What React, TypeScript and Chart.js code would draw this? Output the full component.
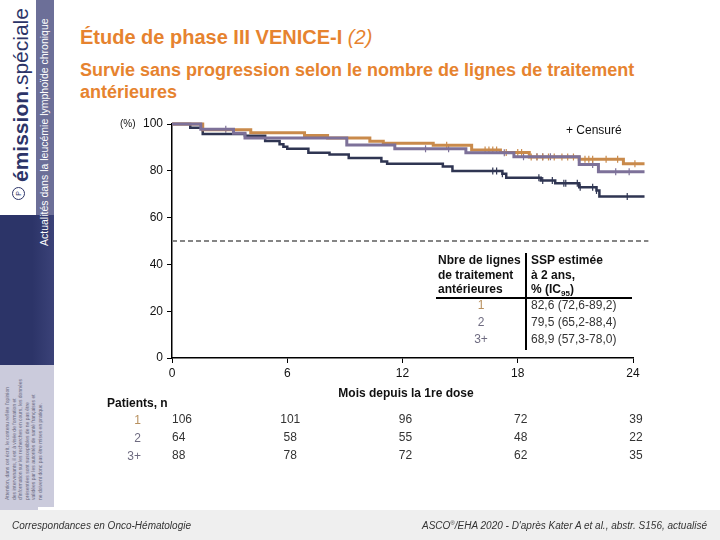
import React, { useEffect, useRef } from "react";
import { Chart, registerables } from "chart.js";

Chart.register(...registerables);

// ---- Data ----
const months1 = [0, 1.6, 4.1, 6.9, 8.1, 10.3, 11.0, 13.6, 15.6, 17.1, 18.6, 21.2, 23.5, 24.6];
const surv1 = [100, 97.5, 96.3, 95.1, 94.0, 92.6, 91.8, 90.9, 88.9, 87.8, 85.9, 84.9, 83.0, 83.0];

const months2 = [0, 1.5, 3.2, 3.8, 9.1, 11.6, 15.3, 17.8, 21.2, 22.2, 24.6];
const surv2 = [100, 97.8, 96.0, 94.0, 91.0, 89.4, 87.7, 86.0, 82.7, 79.6, 79.6];

const months3 = [0, 0.95, 1.6, 3.8, 4.85, 5.6, 5.8, 6.0, 7.1, 8.2, 9.2, 10.9, 11.2, 14.1, 14.6, 17.2, 17.4, 19.2, 19.95, 21.2, 22.1, 22.25, 24.6];
const surv3 = [100, 98.4, 95.7, 95.0, 92.7, 91.3, 90.3, 89.4, 87.7, 87.0, 85.5, 84.0, 83.0, 81.8, 79.9, 78.7, 77.0, 75.9, 74.7, 73.0, 71.6, 69.0, 69.0];

const censor1 = [14.3, 16.3, 16.5, 16.7, 16.9, 17.4, 18.0, 18.2, 18.7, 19.0, 19.3, 19.6, 19.9, 20.3, 20.6, 20.9, 21.5, 21.7, 21.9, 22.6, 23.2, 24.1, 24.3, 24.5];
const censor2 = [2.8, 13.2, 14.4, 17.3, 18.3, 19.0, 19.3, 19.7, 21.9, 23.1, 23.8, 24.6];
const censor3 = [16.7, 16.9, 17.2, 19.1, 19.3, 19.8, 20.4, 20.5, 21.1, 21.25, 21.9, 22.1, 23.7, 24.4, 24.5, 24.6];

const groupLabels = ["1", "2", "3+"];
const estimates = ["82,6 (72,6-89,2)", "79,5 (65,2-88,4)", "68,9 (57,3-78,0)"];

const atRiskTimes = [0, 6, 12, 18, 24];
const atRisk1 = [106, 101, 96, 72, 39];
const atRisk2 = [64, 58, 55, 48, 22];
const atRisk3 = [88, 78, 72, 62, 35];

const yTicks = [0, 20, 40, 60, 80, 100];
const xTicks = [0, 6, 12, 18, 24];
const thresholdValue = 50;
const thresholdEnd = 24.8;

// ---- Styles ----
const FONT = '"Liberation Sans Narrow", "Liberation Sans", Arial, sans-serif';
const SANS = '"Liberation Sans", Arial, sans-serif';
const ORANGE_TITLE = "#E6832F";
const C1 = "#C98A4B";
const C2 = "#7D7199";
const C3 = "#2F3552";
const LABEL1 = "#B8905E";
const LABEL_OTHER = "#6E6B80";
const NAVY = "#2C3468";

function survAt(times: number[], vals: number[], t: number) {
  let v = vals[0];
  for (let i = 0; i < times.length; i++) if (times[i] <= t) v = vals[i];
  return v;
}

function curve(times: number[], vals: number[]) {
  return times.map((t, i) => ({ x: t, y: vals[i] }));
}

function censorPts(c: number[], times: number[], vals: number[]) {
  return c.map((t) => ({ x: t, y: survAt(times, vals, t) }));
}

const extrasPlugin = {
  id: "extras",
  afterDatasetsDraw(chart: any) {
    const { ctx, scales, chartArea } = chart;
    const x = scales.x;
    const y = scales.y;
    // dashed reference line
    ctx.save();
    ctx.strokeStyle = "#858585";
    ctx.lineWidth = 2;
    ctx.setLineDash([5, 3]);
    ctx.beginPath();
    const yy = y.getPixelForValue(thresholdValue);
    ctx.moveTo(x.getPixelForValue(0), yy);
    ctx.lineTo(x.getPixelForValue(thresholdEnd), yy);
    ctx.stroke();
    ctx.restore();

    // numbers at risk
    ctx.save();
    ctx.font = `12px ${FONT}`;
    ctx.fillStyle = "#333";
    ctx.textBaseline = "middle";
    const rows = [atRisk1, atRisk2, atRisk3];
    rows.forEach((row, r) => {
      const py = chartArea.bottom + 62 + r * 18;
      row.forEach((n, i) => {
        const px = x.getPixelForValue(atRiskTimes[i]);
        if (i === 0) {
          ctx.textAlign = "left";
          ctx.fillText(String(n), px, py);
        } else {
          ctx.textAlign = "center";
          ctx.fillText(String(n), px + 3, py);
        }
      });
    });
    ctx.restore();
  },
};

function KMChart() {
  const ref = useRef<HTMLCanvasElement | null>(null);
  useEffect(() => {
    if (!ref.current) return;
    const lineDs = (data: any, color: string, w: number) => ({
      type: "line",
      data,
      borderColor: color,
      borderWidth: w,
      stepped: "before",
      pointRadius: 0,
      fill: false,
      clip: false,
    });
    const censorDs = (data: any, color: string) => ({
      type: "scatter",
      data,
      borderColor: color,
      backgroundColor: color,
      pointStyle: "line",
      rotation: 90,
      pointRadius: 3.5,
      borderWidth: 1.2,
      showLine: false,
      clip: false,
    });
    const chart = new Chart(ref.current, {
      type: "line",
      data: {
        datasets: [
          lineDs(curve(months2, surv2), C2, 3),
          lineDs(curve(months1, surv1), C1, 3),
          lineDs(curve(months3, surv3), C3, 2.5),
          censorDs(censorPts(censor1, months1, surv1), C1),
          censorDs(censorPts(censor2, months2, surv2), C2),
          censorDs(censorPts(censor3, months3, surv3), C3),
        ] as any,
      },
      options: {
        animation: false,
        responsive: false,
        devicePixelRatio: 1,
        layout: { padding: { left: 132, top: 124, right: 87, bottom: 152 } },
        plugins: { legend: { display: false }, tooltip: { enabled: false } },
        scales: {
          x: {
            type: "linear",
            min: 0,
            max: 24,
            afterBuildTicks: (s: any) => {
              s.ticks = xTicks.map((v) => ({ value: v }));
            },
            afterFit: (s: any) => {
              s.height = 30;
            },
            ticks: { color: "#111", font: { family: FONT, size: 12 }, padding: 3, maxRotation: 0 },
            grid: { drawOnChartArea: false, drawTicks: true, tickLength: 5, color: "#000", lineWidth: 1 },
            border: { display: true, color: "#000", width: 1.5 },
          },
          y: {
            type: "linear",
            min: 0,
            max: 100,
            afterBuildTicks: (s: any) => {
              s.ticks = yTicks.map((v) => ({ value: v }));
            },
            afterFit: (s: any) => {
              s.width = 40;
            },
            ticks: { color: "#111", font: { family: FONT, size: 12 }, padding: 4 },
            grid: { drawOnChartArea: false, drawTicks: true, tickLength: 5, color: "#000", lineWidth: 1 },
            border: { display: true, color: "#000", width: 1.5 },
          },
        },
      } as any,
      plugins: [extrasPlugin],
    });
    return () => chart.destroy();
  }, []);
  return (
    <canvas
      ref={ref}
      width={720}
      height={540}
      style={{ position: "absolute", left: 0, top: 0, width: 720, height: 540 }}
    />
  );
}

const abs = (s: any): any => ({ position: "absolute", whiteSpace: "nowrap", ...s });

export default function App() {
  return (
    <div style={{ position: "absolute", left: 0, top: 0, width: 720, height: 540, background: "#fff", overflow: "hidden", fontFamily: FONT }}>
      {/* Sidebar */}
      <div style={abs({ left: 36, top: 0, width: 18, height: 216, background: "#6C6F98" })} />
      <div style={abs({ left: 0, top: 215, width: 54, height: 150, background: `linear-gradient(90deg, ${NAVY} 0%, ${NAVY} 60%, #3B4278 100%)` })} />
      <div style={abs({ left: 0, top: 365, width: 54, height: 142, background: "#CBCBDC" })} />
      <div style={abs({ left: 0, top: 505, width: 38, height: 6, background: "#CBCBDC" })} />
      <div style={abs({ left: 0, top: 510, width: 720, height: 30, background: "#EFEFEF" })} />

      {/* logo circle */}
      <div style={abs({ left: 12, top: 187, width: 11, height: 11, borderRadius: "50%", border: `1px solid ${NAVY}`, color: NAVY, fontSize: 7, lineHeight: "11px", textAlign: "center", transform: "rotate(-90deg)" })}>P</div>
      <div style={abs({ left: 10, top: 182, fontSize: 21, lineHeight: "21px", color: NAVY, fontFamily: SANS, transformOrigin: "left top", transform: "rotate(-90deg)" })}>
        <b>émission</b>.spéciale
      </div>
      <div style={abs({ left: 38, top: 246, fontSize: 10.5, lineHeight: "13px", color: "#fff", fontFamily: SANS, transformOrigin: "left top", transform: "rotate(-90deg)" })}>
        Actualités dans la leucémie lymphoïde chronique
      </div>
      <div style={abs({ left: 4, top: 500, fontSize: 5, lineHeight: "6.5px", color: "#6A6A82", fontFamily: SANS, transformOrigin: "left top", transform: "rotate(-90deg)", whiteSpace: "pre" })}>
        {"Attention, dans cet écrit, le contenu reflète l'opinion\ndes intervenants, il est à visée de formation et\nd'information sur les recherches en cours, les données\nprésentées sont susceptibles de ne pas être\nvalidées par les autorités de santé françaises et\nne doivent donc pas être mises en pratique."}
      </div>

      {/* Titles */}
      <div style={abs({ left: 80, top: 26, fontSize: 20, lineHeight: "23px", fontWeight: "bold", color: ORANGE_TITLE })}>
        Étude de phase III VENICE-I <i style={{ fontWeight: "normal" }}>(2)</i>
      </div>
      <div style={abs({ left: 80, top: 59, fontSize: 18, lineHeight: "22px", fontWeight: "bold", color: ORANGE_TITLE })}>
        Survie sans progression selon le nombre de lignes de traitement
        <br />
        antérieures
      </div>

      <KMChart />

      {/* axis extras */}
      <div style={abs({ left: 120, top: 118, fontSize: 10, lineHeight: "12px", color: "#111" })}>(%)</div>
      <div style={abs({ left: 566, top: 123, fontSize: 12, lineHeight: "14px", color: "#111" })}>+ Censuré</div>
      <div style={abs({ left: 306, top: 386, width: 200, textAlign: "center", fontSize: 12, lineHeight: "14px", fontWeight: "bold", color: "#111" })}>
        Mois depuis la 1re dose
      </div>

      {/* Estimates table */}
      <div style={abs({ left: 438, top: 253, fontSize: 12, lineHeight: "14.5px", fontWeight: "bold", color: "#111" })}>
        Nbre de lignes
        <br />
        de traitement
        <br />
        antérieures
      </div>
      <div style={abs({ left: 531, top: 253, fontSize: 12, lineHeight: "14.5px", fontWeight: "bold", color: "#111" })}>
        SSP estimée
        <br />
        à 2 ans,
        <br />
        % (IC<sub style={{ fontSize: 8, lineHeight: 0 }}>95</sub>)
      </div>
      <div style={abs({ left: 525, top: 253, width: 2, height: 97, background: "#000" })} />
      <div style={abs({ left: 436, top: 297, width: 196, height: 2, background: "#000" })} />
      {groupLabels.map((g, i) => (
        <div key={"g" + i} style={abs({ left: 440, top: 298 + i * 17, width: 82, textAlign: "center", fontSize: 12, lineHeight: "14px", color: i === 0 ? LABEL1 : LABEL_OTHER })}>
          {g}
        </div>
      ))}
      {estimates.map((e, i) => (
        <div key={"e" + i} style={abs({ left: 531, top: 298 + i * 17, fontSize: 12, lineHeight: "14px", color: "#333" })}>
          {e}
        </div>
      ))}

      {/* Patients at risk labels */}
      <div style={abs({ left: 107, top: 396, fontSize: 12, lineHeight: "14px", fontWeight: "bold", color: "#111" })}>Patients, n</div>
      {groupLabels.map((g, i) => (
        <div key={"r" + i} style={abs({ left: 100, top: 413 + i * 18, width: 41, textAlign: "right", fontSize: 12, lineHeight: "14px", color: i === 0 ? LABEL1 : LABEL_OTHER })}>
          {g}
        </div>
      ))}

      {/* Footer */}
      <div style={abs({ left: 12, top: 520, fontSize: 10, lineHeight: "12px", fontStyle: "italic", color: "#333" })}>
        Correspondances en Onco-Hématologie
      </div>
      <div style={abs({ right: 13, top: 520, fontSize: 10, lineHeight: "12px", fontStyle: "italic", color: "#333" })}>
        ASCO<sup style={{ fontSize: 6, lineHeight: 0 }}>®</sup>/EHA 2020 - D'après Kater A et al., abstr. S156, actualisé
      </div>
    </div>
  );
}
